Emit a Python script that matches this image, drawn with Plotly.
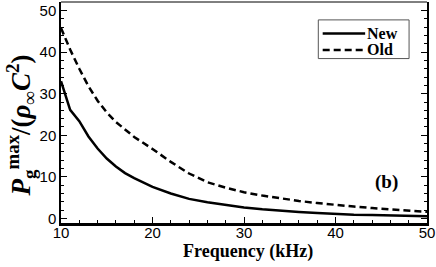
import plotly.graph_objects as go

freq_new = [10, 10.8, 11, 12, 13, 14, 15, 16, 17, 18, 20, 22, 24, 26, 28, 30, 32, 34, 36, 38, 40, 42, 44, 46, 48, 50]
p_new = [33.0, 27.0, 26.1, 23.4, 19.7, 16.8, 14.4, 12.5, 10.9, 9.7, 7.6, 6.0, 4.7, 3.9, 3.2, 2.65, 2.2, 1.8, 1.55, 1.3, 1.05, 0.9, 0.8, 0.7, 0.6, 0.5]

freq_old = [10, 11, 12, 13, 14, 15, 16, 18, 20, 22, 24, 26, 28, 30, 32, 34, 36, 38, 40, 42, 44, 46, 48, 50]
p_old = [45.8, 40.6, 36.0, 31.8, 28.3, 25.5, 23.2, 19.6, 16.7, 13.6, 10.8, 8.7, 7.4, 6.3, 5.5, 4.8, 4.2, 3.7, 3.2, 2.85, 2.5, 2.2, 1.9, 1.6]

x_ticks = [10, 20, 30, 40, 50]
y_ticks = [0, 10, 20, 30, 40, 50]
series_names = ["New", "Old"]

serif = "Liberation Serif"
sans = "Liberation Sans"
OLD_DASH = "7px,4px"

fig = go.Figure()
fig.add_trace(go.Scatter(x=freq_new, y=p_new, mode="lines", name=series_names[0],
                         line=dict(color="black", width=2.5)))
fig.add_trace(go.Scatter(x=freq_old, y=p_old, mode="lines", name=series_names[1],
                         line=dict(color="black", width=2.5, dash=OLD_DASH)))

# hand-drawn legend (box, sample lines, labels) in paper coordinates
legend_shapes = [
    dict(type="rect", xref="paper", yref="paper", x0=0.703, x1=0.951, y0=0.744, y1=0.919,
         line=dict(color="#555555", width=1), fillcolor="white", layer="above"),
    dict(type="line", xref="paper", yref="paper", x0=0.715, x1=0.831, y0=0.858, y1=0.858,
         line=dict(color="black", width=2.5), layer="above"),
    dict(type="line", xref="paper", yref="paper", x0=0.715, x1=0.831, y0=0.783, y1=0.783,
         line=dict(color="black", width=2.5, dash=OLD_DASH), layer="above"),
    dict(type="line", xref="paper", yref="paper", x0=0, x1=1, y0=1, y1=1,
         line=dict(color="black", width=1)),
]

legend_ann = [
    dict(text="<b>%s</b>" % series_names[0], xref="paper", yref="paper", x=0.831, y=0.858,
         xanchor="left", yanchor="middle", showarrow=False,
         font=dict(family=serif, size=16, color="black")),
    dict(text="<b>%s</b>" % series_names[1], xref="paper", yref="paper", x=0.831, y=0.783,
         xanchor="left", yanchor="middle", showarrow=False,
         font=dict(family=serif, size=16, color="black")),
]

fig.update_layout(
    width=436, height=267,
    margin=dict(l=61, r=9, t=2, b=44),
    plot_bgcolor="white", paper_bgcolor="white",
    showlegend=False,
    xaxis=dict(range=[10, 50], tickvals=x_ticks, ticks="inside", ticklen=6,
               tickwidth=1, tickcolor="black",
               minor=dict(dtick=2, ticks="inside", ticklen=3, tickcolor="black"),
               showline=True, linecolor="black", linewidth=2.5, mirror=False,
               showgrid=False, zeroline=False, automargin=False,
               ticklabelstandoff=-6,
               tickfont=dict(family=sans, size=15, color="black")),
    yaxis=dict(range=[-1.1, 52.05], tickvals=y_ticks, ticks="inside", ticklen=6,
               tickwidth=1, tickcolor="black",
               minor=dict(dtick=2, ticks="inside", ticklen=3, tickcolor="black"),
               showline=True, linecolor="black", linewidth=1.5, mirror="allticks",
               showgrid=False, zeroline=False, automargin=False,
               tickfont=dict(family=sans, size=15, color="black")),
    shapes=legend_shapes,
    annotations=[
        dict(text="<b>Frequency (kHz)</b>", xref="paper", yref="paper",
             x=0.51, y=-0.13, xanchor="center", yanchor="middle", showarrow=False,
             font=dict(family=serif, size=18, color="black")),
        dict(text="<b><i>P</i><sub>g</sub><sup>max</sup>/(<i>ρ</i><sub>∞</sub><i>C</i><sup>2</sup>)</b>",
             xref="paper", yref="paper", x=-0.11, y=0.44, xanchor="center",
             yanchor="middle", textangle=-90, showarrow=False,
             font=dict(family=serif, size=27, color="black")),
        dict(text="<b>(b)</b>", xref="paper", yref="paper", x=0.89, y=0.187,
             xanchor="center", yanchor="middle", showarrow=False,
             font=dict(family=serif, size=19, color="black")),
    ] + legend_ann,
)

fig.write_html("out.html", config={"displayModeBar": False},
               post_script="document.body.style.margin='0';document.body.style.padding='0';")
